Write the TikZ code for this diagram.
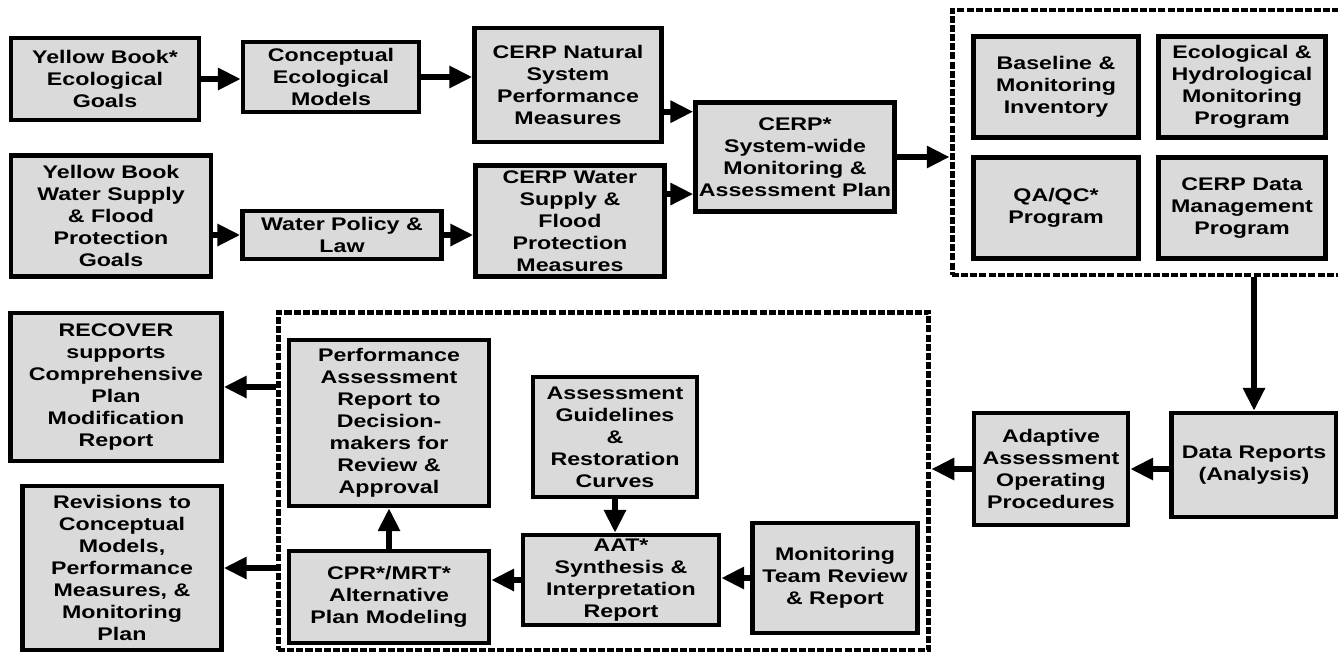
\documentclass[tikz,border=0pt]{standalone}
\usepackage{fontspec}
\setmainfont{Liberation Sans}[FakeStretch=1.27]
\usetikzlibrary{arrows.meta}
\definecolor{boxgray}{RGB}{218,218,218}

\begin{document}
\begin{tikzpicture}[x=0.02cm,y=-0.02cm,>={Triangle[length=13pt,width=12pt]}]
    \tikzstyle{block}=[draw,line width=2.6pt,fill=boxgray,align=center,inner sep=0pt,
        font=\fontsize{10.4}{12.5}\selectfont\bfseries]
    \tikzstyle{group}=[draw,line width=2.8pt,dash pattern=on 4pt off 1.2pt,inner sep=0pt]
    \tikzstyle{flow}=[->,line width=3.2pt]
    \useasboundingbox (0,0) rectangle (1338,653);
    \path
    % Dashed groups
    (1147,142.5) node[group,minimum width=7.80cm,minimum height=5.30cm]  (monitor) {}
    (603.5,481)  node[group,minimum width=13.02cm,minimum height=6.76cm] (assess) {}

    % Ecological goals row
    (105,79)  node[block,minimum width=3.76cm,minimum height=1.64cm] (ybeco) {Yellow Book*\\Ecological\\Goals}
    (331,77)  node[block,minimum width=3.52cm,minimum height=1.40cm] (concept) {Conceptual\\Ecological\\Models}
    (568,85)  node[block,minimum width=3.74cm,minimum height=2.28cm] (cerpnat) {CERP Natural\\System\\Performance\\Measures}

    % Water supply row
    (111,216) node[block,minimum width=4.00cm,minimum height=2.42cm] (ybwater) {Yellow Book\\Water Supply\\\& Flood\\Protection\\Goals}
    (342,235) node[block,minimum width=3.98cm,minimum height=0.96cm] (policy) {Water Policy \&\\Law}
    (570,221) node[block,minimum width=3.78cm,minimum height=2.22cm] (cerpwater) {CERP Water\\Supply \&\\Flood\\Protection\\Measures}

    % System-wide plan
    (795,157) node[block,minimum width=3.98cm,minimum height=2.18cm] (swplan) {CERP*\\System-wide\\Monitoring \&\\Assessment Plan}

    % Monitoring group
    (1056,87)  node[block,minimum width=3.30cm,minimum height=2.02cm] (baseline) {Baseline \&\\Monitoring\\Inventory}
    (1242,87)  node[block,minimum width=3.34cm,minimum height=2.02cm] (ecohydro) {Ecological \&\\Hydrological\\Monitoring\\Program}
    (1056,208) node[block,minimum width=3.30cm,minimum height=2.02cm] (qaqc) {QA/QC*\\Program}
    (1242,208) node[block,minimum width=3.34cm,minimum height=2.02cm] (datamgmt) {CERP Data\\Management\\Program}

    % Reports and procedures
    (1254,465) node[block,minimum width=3.30cm,minimum height=2.08cm] (datarep) {Data Reports\\(Analysis)}
    (1051,469) node[block,minimum width=3.08cm,minimum height=2.24cm] (aaop) {Adaptive\\Assessment\\Operating\\Procedures}

    % Assessment group
    (389,423) node[block,minimum width=4.00cm,minimum height=3.32cm] (perfrep) {Performance\\Assessment\\Report to\\Decision-\\makers for\\Review \&\\Approval}
    (389,597) node[block,minimum width=4.00cm,minimum height=1.84cm] (cprmrt) {CPR*/MRT*\\Alternative\\Plan Modeling}
    (615,437) node[block,minimum width=3.28cm,minimum height=2.40cm] (guide) {Assessment\\Guidelines\\\&\\Restoration\\Curves}
    (621,580) node[block,minimum width=3.92cm,minimum height=1.80cm] (aat) {AAT*\\Synthesis \&\\Interpretation\\Report}
    (835,578) node[block,minimum width=3.30cm,minimum height=2.20cm] (mtr) {Monitoring\\Team Review\\\& Report}

    % Outcomes
    (116,387) node[block,minimum width=4.22cm,minimum height=2.96cm] (recover) {RECOVER\\supports\\Comprehensive\\Plan\\Modification\\Report}
    (122,568) node[block,minimum width=3.98cm,minimum height=3.28cm] (revisions) {Revisions to\\Conceptual\\Models,\\Performance\\Measures, \&\\Monitoring\\Plan};

    % Link the different parts of the graph
    \draw[flow] (ybeco) -- (ybeco -| concept.west);
    \draw[flow] (concept) -- (concept -| cerpnat.west);
    \draw[flow] (policy -| ybwater.east) -- (policy);
    \draw[flow] (policy) -- (policy -| cerpwater.west);
    \draw[flow] (cerpnat.east |- swplan.156) -- (swplan.156);
    \draw[flow] (cerpwater.east |- swplan.200) -- (swplan.200);
    \draw[flow] (swplan) -- (swplan -| monitor.west);
    \draw[flow] (monitor.south -| datarep) -- (datarep);
    \draw[flow] (aaop -| datarep.west) -- (aaop);
    \draw[flow] (aaop) -- (aaop -| assess.east);
    \draw[flow] (mtr) -- (mtr -| aat.east);
    \draw[flow] (aat) -- (aat -| cprmrt.east);
    \draw[flow] (guide) -- (guide |- aat.north);
    \draw[flow] (cprmrt) -- (perfrep);
    \draw[flow] (assess.west |- recover) -- (recover);
    \draw[flow] (assess.west |- revisions) -- (revisions);
\end{tikzpicture}
\end{document}
